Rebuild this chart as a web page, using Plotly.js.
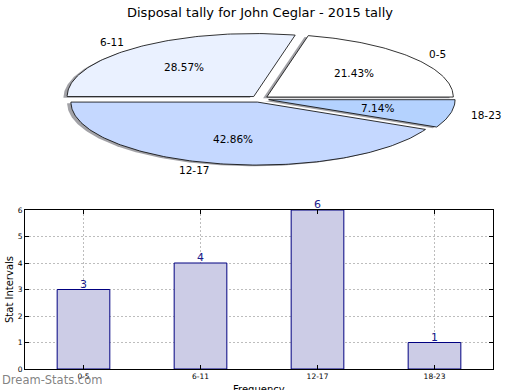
<!DOCTYPE html>
<html>
<head>
<meta charset="utf-8">
<script src="https://cdn.plot.ly/plotly-3.0.1.min.js"></script>
<style>html,body{margin:0;padding:0;background:#fff}#chart{width:520px;height:390px}</style>
</head>
<body>
<div id="chart"></div>
<script>
const categories = ['0-5', '6-11', '12-17', '18-23'];
const values = [3, 4, 6, 1];
const pieColors = ['#ffffff', '#eaf1ff', '#c5d8ff', '#b4d2fe'];
const chartTitle = 'Disposal tally for John Ceglar - 2015 tally';
const yTitle = 'Stat Intervals';
const xTitle = 'Frequency';
const watermark = 'Dream-Stats.com';

const W = 520, H = 390;
const FONT = 'DejaVu Sans, sans-serif';
const explode = 0.05, labelDist = 1.1, pctDist = 0.6;

const total = values.reduce((a, b) => a + b, 0);
const traces = [];
const shadows = [];
const wedges = [];
const annotations = [];
let theta = 0;
values.forEach((v, i) => {
  const frac = v / total;
  const t1 = theta, t2 = theta + frac * 360;
  theta = t2;
  const tm = (t1 + t2) / 2 * Math.PI / 180;
  const ox = explode * Math.cos(tm), oy = explode * Math.sin(tm);
  const xs = [ox], ys = [oy];
  const n = Math.max(4, Math.ceil(t2 - t1));
  for (let k = 0; k <= n; k++) {
    const a = (t1 + (t2 - t1) * k / n) * Math.PI / 180;
    xs.push(ox + Math.cos(a));
    ys.push(oy + Math.sin(a));
  }
  xs.push(ox); ys.push(oy);
  shadows.push({
    type: 'scatter', mode: 'lines', xaxis: 'x2', yaxis: 'y2',
    x: xs.map(x => x - 0.02), y: ys.map(y => y - 0.02),
    fill: 'toself', fillcolor: 'rgba(70,70,80,0.5)', line: {width: 0},
    hoverinfo: 'skip', showlegend: false
  });
  wedges.push({
    type: 'scatter', mode: 'lines', xaxis: 'x2', yaxis: 'y2',
    x: xs, y: ys, fill: 'toself', fillcolor: pieColors[i],
    line: {color: '#000000', width: 0.8},
    hoverinfo: 'skip', showlegend: false
  });
  const c = Math.cos(tm), s = Math.sin(tm);
  annotations.push({
    xref: 'x2', yref: 'y2', x: ox + labelDist * c, y: oy + labelDist * s,
    text: categories[i], showarrow: false,
    xanchor: c >= 0 ? 'left' : 'right', yanchor: 'middle',
    font: {family: FONT, size: 10.5, color: '#000'}
  });
  annotations.push({
    xref: 'x2', yref: 'y2', x: ox + pctDist * c, y: oy + pctDist * s,
    text: (frac * 100).toFixed(2) + '%', showarrow: false,
    xanchor: 'center', yanchor: 'middle',
    font: {family: FONT, size: 10.5, color: '#000'}
  });
});
traces.push(...shadows, ...wedges);

traces.push({
  type: 'bar', x: categories, y: values, xaxis: 'x', yaxis: 'y',
  width: 0.45, marker: {color: '#ccccE6', line: {color: '#000080', width: 1}},
  hoverinfo: 'skip', showlegend: false
});
categories.forEach((c, i) => {
  annotations.push({
    xref: 'x', yref: 'y', x: c, y: values[i], text: String(values[i]),
    showarrow: false, xanchor: 'center', yanchor: 'bottom', yshift: -3,
    font: {family: FONT, size: 11, color: '#1a1a8c'}
  });
});

annotations.push({
  xref: 'paper', yref: 'paper', x: 260 / W, y: 1 - 3 / H, text: chartTitle,
  showarrow: false, xanchor: 'center', yanchor: 'top',
  font: {family: FONT, size: 13, color: '#000'}
});
annotations.push({
  xref: 'paper', yref: 'paper', x: 259 / W, y: 1 - 382 / H, text: xTitle,
  showarrow: false, xanchor: 'center', yanchor: 'top',
  font: {family: FONT, size: 10, color: '#000'}
});
annotations.push({
  xref: 'paper', yref: 'paper', x: 9 / W, y: 1 - 290 / H, text: yTitle,
  showarrow: false, xanchor: 'center', yanchor: 'middle', textangle: -90,
  font: {family: FONT, size: 10, color: '#000'}
});
annotations.push({
  xref: 'paper', yref: 'paper', x: 0, y: 1 - 380 / H, text: watermark,
  showarrow: false, xanchor: 'left', yanchor: 'middle',
  font: {family: FONT, size: 11.5, color: 'rgba(115,115,115,0.9)'}
});

const cx = 259.5, cy = 99, rx = 186.5, ry = 63, pieH = 195;
const layout = {
  width: W, height: H,
  margin: {l: 0, r: 0, t: 0, b: 0},
  paper_bgcolor: '#ffffff', plot_bgcolor: '#ffffff',
  showlegend: false,
  font: {family: FONT, color: '#000'},
  xaxis2: {domain: [0, 1], range: [-cx / rx, (W - cx) / rx], visible: false, fixedrange: true},
  yaxis2: {domain: [1 - pieH / H, 1], range: [(cy - pieH) / ry, cy / ry], visible: false, fixedrange: true},
  xaxis: {
    domain: [25 / W, 493 / W], type: 'category', range: [-0.5, 3.5],
    showline: true, linecolor: '#000', linewidth: 1, mirror: 'ticks',
    ticks: 'inside', ticklen: 4, tickcolor: '#000',
    showgrid: true, gridcolor: '#bdbdbd', griddash: '1.5px,2.5px', gridwidth: 1,
    tickfont: {family: FONT, size: 7.5, color: '#000'}, zeroline: false, fixedrange: true
  },
  yaxis: {
    domain: [21 / H, 180 / H], range: [0, 6], dtick: 1,
    showline: true, linecolor: '#000', linewidth: 1, mirror: 'ticks',
    ticks: 'inside', ticklen: 4, tickcolor: '#000',
    showgrid: true, gridcolor: '#bdbdbd', griddash: '1.5px,2.5px', gridwidth: 1,
    tickfont: {family: FONT, size: 7.5, color: '#000'}, zeroline: false, fixedrange: true
  },
  annotations: annotations
};

Plotly.newPlot('chart', traces, layout, {staticPlot: true, displayModeBar: false});
</script>
</body>
</html>
